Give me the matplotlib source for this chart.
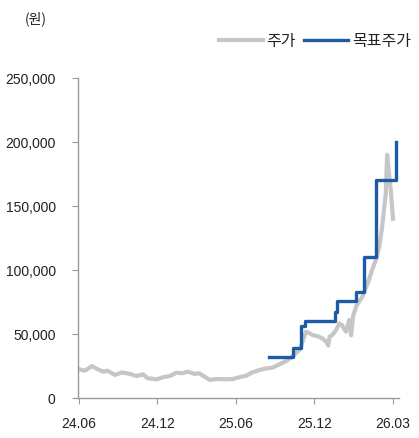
import matplotlib
matplotlib.use("Agg")
import matplotlib.pyplot as plt
from matplotlib.ticker import FuncFormatter

# Share price (trading-day index, won)
price_day = [0, 9, 20, 27, 37, 44, 55, 66, 78, 88, 98, 105, 119, 128, 139, 149, 158, 166,
             177, 184, 192, 200, 210, 223, 235, 245, 256, 265, 276, 287, 296, 306, 317, 326,
             337, 341, 347, 352, 357, 363, 367, 372, 378, 381, 383, 387, 393, 398, 402, 408,
             413, 416, 419, 424, 428, 433, 437, 443, 448, 454, 459, 463, 466, 469, 471, 472,
             474, 477, 480]
price = [22600, 21300, 25000, 22900, 20600, 21300, 18000, 20000, 18800, 17200, 18500, 15400,
         14600, 16200, 17200, 19800, 19300, 20600, 18800, 19300, 16700, 14100, 14800, 14600,
         14800, 16200, 17500, 20000, 21900, 23200, 23700, 26300, 28900, 32300, 37500, 43000,
         51800, 50800, 49200, 48400, 47900, 46600, 44000, 41000, 47900, 49200, 53000, 58300,
         57000, 51800, 60900, 49000, 64000, 72000, 75000, 79000, 84000, 92000, 100000, 108000,
         118000, 132000, 146000, 160000, 190000, 185000, 175000, 160000, 140000]

# Target price changes
target_day = [290, 327, 339, 345, 392, 395, 423, 436, 454, 484, 485]
target = [32000, 39000, 56000, 60000, 67000, 76000, 83000, 110000, 170000, 200000, 200000]

tick_days = [0, 120, 240, 360, 480]
tick_labels = ["24.06", "24.12", "25.06", "25.12", "26.03"]

num_font = ["Liberation Sans Narrow", "Liberation Sans", "DejaVu Sans"]
kr_font = ["Noto Sans CJK KR", "DejaVu Sans"]

fig = plt.figure(figsize=(4.19, 4.38), dpi=100)
ax = fig.add_axes([0.186, 0.0913, 0.766, 0.7306])

ax.plot(price_day, price, color="#c6c6c6", linewidth=3.0, label="주가", solid_joinstyle="round")
ax.step(target_day, target, where="post", color="#1f5aa6", linewidth=2.4, label="목표주가")

ax.set_xlim(-1.5, 489)
ax.set_ylim(0, 250000)
ax.set_yticks(range(0, 250001, 50000))
ax.yaxis.set_major_formatter(FuncFormatter(lambda v, p: f"{int(v):,}"))
ax.set_xticks(tick_days)
ax.set_xticklabels(tick_labels)

for s in ["top", "right"]:
    ax.spines[s].set_visible(False)
for s in ["left", "bottom"]:
    ax.spines[s].set_color("#9a9a9a")
    ax.spines[s].set_linewidth(1.0)

ax.tick_params(axis="both", direction="out", length=4, color="#9a9a9a", labelsize=10,
               labelcolor="#222222")
ax.tick_params(axis="y", pad=12)
ax.tick_params(axis="x", pad=10)
for lbl in ax.get_xticklabels() + ax.get_yticklabels():
    lbl.set_family(num_font)

fig.text(0.058, 0.958, "(원)", fontsize=10, family=kr_font, color="#222222", va="center")

leg = fig.legend(loc="center right", bbox_to_anchor=(1.0, 0.906), ncol=2, frameon=False,
                 prop={"family": kr_font, "size": 11.5}, handlelength=2.75,
                 handletextpad=0.25, columnspacing=0.5, borderaxespad=0.1)
for t in leg.get_texts():
    t.set_color("#222222")

fig.savefig("out.png", dpi=100)
